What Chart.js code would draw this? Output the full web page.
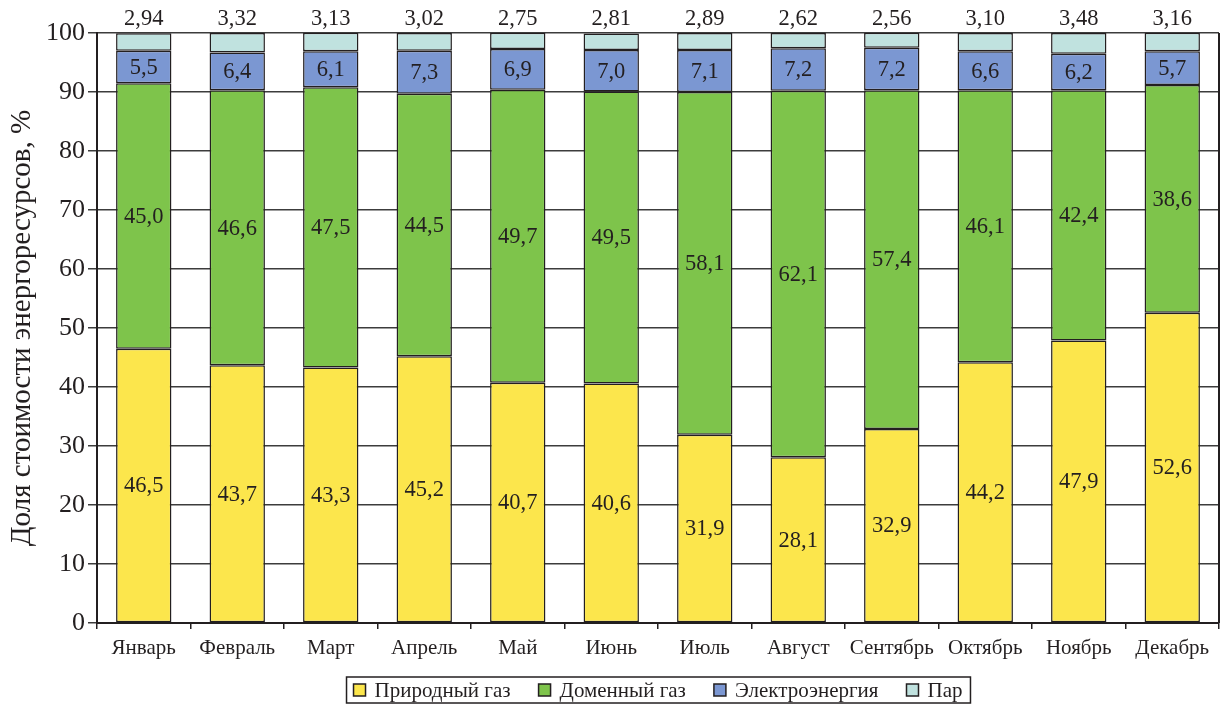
<!DOCTYPE html>
<html>
<head>
<meta charset="utf-8">
<script src="https://cdn.jsdelivr.net/npm/chart.js@4/dist/chart.umd.min.js"></script>
<style>
  html, body { margin: 0; padding: 0; background: #fff; }
  #wrap { width: 1223px; height: 705px; position: relative; }
</style>
</head>
<body>
<div id="wrap"><canvas id="c" width="1223" height="705"></canvas></div>
<script>
// Monthly structure of energy resource costs, %
const months = ['Январь', 'Февраль', 'Март', 'Апрель', 'Май', 'Июнь', 'Июль', 'Август', 'Сентябрь', 'Октябрь', 'Ноябрь', 'Декабрь'];
const naturalGas  = [46.5, 43.7, 43.3, 45.2, 40.7, 40.6, 31.9, 28.1, 32.9, 44.2, 47.9, 52.6];
const blastGas    = [45.0, 46.6, 47.5, 44.5, 49.7, 49.5, 58.1, 62.1, 57.4, 46.1, 42.4, 38.6];
const electricity = [5.5, 6.4, 6.1, 7.3, 6.9, 7.0, 7.1, 7.2, 7.2, 6.6, 6.2, 5.7];
const steam       = [2.94, 3.32, 3.13, 3.02, 2.75, 2.81, 2.89, 2.62, 2.56, 3.10, 3.48, 3.16];
const seriesNames = ['Природный газ', 'Доменный газ', 'Электроэнергия', 'Пар'];
const seriesColors = ['#fce64c', '#7ec44b', '#7b97d2', '#c0e2df'];
const yAxisTitle = 'Доля стоимости энергоресурсов, %';

const SERIF = '"Liberation Serif", "Times New Roman", serif';
const INK = '#231f20';

const fmt = (v, d) => v.toFixed(d).replace('.', ',');

// Value labels: inside the segments for the first three series, above the plot for steam
const valueLabels = {
  id: 'valueLabels',
  afterDatasetsDraw(chart) {
    const ctx = chart.ctx;
    ctx.save();
    ctx.fillStyle = INK;
    ctx.font = '22.5px ' + SERIF;
    ctx.textAlign = 'center';
    ctx.textBaseline = 'middle';
    chart.data.datasets.forEach((ds, i) => {
      const meta = chart.getDatasetMeta(i);
      meta.data.forEach((el, j) => {
        const v = ds.data[j];
        if (i < 3) {
          ctx.fillText(fmt(v, 1), el.x, (el.y + el.base) / 2 + 1);
        } else {
          ctx.fillText(fmt(v, 2), el.x, chart.chartArea.top - 14);
        }
      });
    });
    ctx.restore();
  }
};

// Right edge of the plot frame and the boxed legend under the axis
const frameAndLegend = {
  id: 'frameAndLegend',
  afterDraw(chart) {
    const ctx = chart.ctx;
    const a = chart.chartArea;
    ctx.save();
    ctx.strokeStyle = INK;
    ctx.lineWidth = 2;
    ctx.beginPath();
    ctx.moveTo(a.right, a.top);
    ctx.lineTo(a.right, a.bottom);
    ctx.stroke();

    ctx.font = '21px ' + SERIF;
    ctx.textBaseline = 'middle';
    ctx.textAlign = 'left';
    const box = 12, gap = 9, spacing = 28;
    const items = chart.data.datasets.map(ds => ({
      label: ds.label, color: ds.backgroundColor,
      w: box + gap + ctx.measureText(ds.label).width
    }));
    const total = items.reduce((s, it) => s + it.w, 0) + spacing * (items.length - 1);
    const cx = (a.left + a.right) / 2;
    let x = cx - total / 2;
    const cy = 690;
    ctx.lineWidth = 1.5;
    ctx.strokeStyle = INK;
    ctx.strokeRect(x - 7, 677, total + 15, 26);
    items.forEach(it => {
      ctx.fillStyle = it.color;
      ctx.fillRect(x, cy - box / 2, box, box);
      ctx.strokeRect(x, cy - box / 2, box, box);
      ctx.fillStyle = INK;
      ctx.fillText(it.label, x + box + gap, cy + 1);
      x += it.w + spacing;
    });
    ctx.restore();
  }
};

const seriesData = [naturalGas, blastGas, electricity, steam];

new Chart(document.getElementById('c'), {
  type: 'bar',
  data: {
    labels: months,
    datasets: seriesNames.map((name, i) => ({
      label: name,
      data: seriesData[i],
      backgroundColor: seriesColors[i],
      borderColor: INK,
      borderWidth: 1.5,
      borderSkipped: false,
      barPercentage: 0.8,
      categoryPercentage: 0.74
    }))
  },
  options: {
    responsive: false,
    animation: false,
    devicePixelRatio: 1,
    layout: { padding: { top: 33, right: 4, left: 0, bottom: 0 } },
    plugins: {
      legend: { display: false },
      tooltip: { enabled: false }
    },
    scales: {
      x: {
        stacked: true,
        afterFit: s => { s.height = 82; },
        grid: { drawOnChartArea: false, drawTicks: true, tickLength: 6, color: INK, lineWidth: 1.5 },
        border: { display: true, color: INK, width: 2 },
        ticks: { color: INK, font: { family: SERIF, size: 21 }, padding: 7, maxRotation: 0 }
      },
      y: {
        stacked: true,
        min: 0,
        max: 100,
        afterFit: s => { s.width = 97; },
        grid: { color: '#3c3c3c', lineWidth: 1.5, drawTicks: true, tickLength: 9 },
        border: { display: true, color: INK, width: 2 },
        ticks: { stepSize: 10, color: INK, font: { family: SERIF, size: 26 }, padding: 3 },
        title: {
          display: true, text: yAxisTitle, color: INK,
          font: { family: SERIF, size: 29 }, padding: { top: 5, bottom: 0 }
        }
      }
    }
  },
  plugins: [valueLabels, frameAndLegend]
});
</script>
</body>
</html>
